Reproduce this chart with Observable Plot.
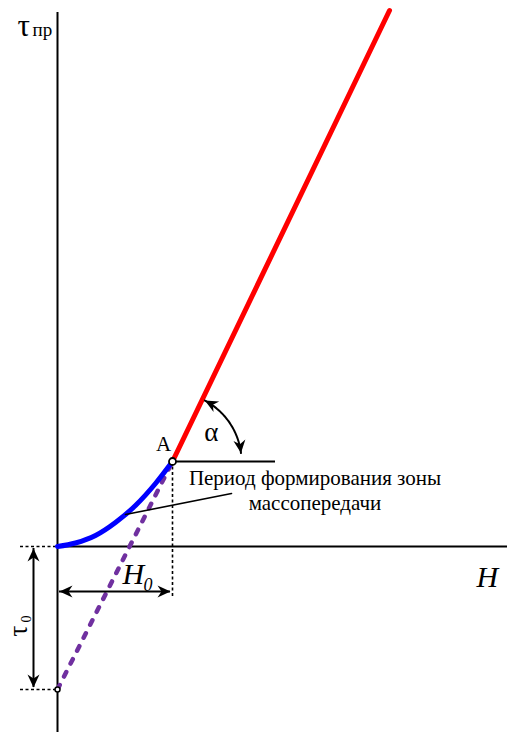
<!DOCTYPE html>
<html><head><meta charset="utf-8">
<script src="https://cdn.jsdelivr.net/npm/d3@7"></script>
<script src="https://cdn.jsdelivr.net/npm/@observablehq/plot@0.6"></script>
<style>body{margin:0;background:#fff}svg{display:block}svg text{font-family:'Liberation Serif','Times New Roman',serif}</style>
</head><body><div id="chart"></div>
<script>
// ---- data (H horizontally, τпр vertically; origin where the axes cross) ----
const curveH   = [0, 18, 38, 58, 78, 98, 115];
const curveTau = [0, 3.5, 11, 24, 41, 63, 85];
const pointA   = [115, 85];            // end of the transitional period
const lineH    = [115, 332];           // steady linear part
const lineTau  = [85, 536];
const extrapH  = [0, 115];             // extrapolation of the linear part
const extrapTau = [-143, 85];
const H0 = 115;
const tau0 = -143;
const leaderH = [68, 174];
const leaderTau = [32, 53];
const noteLines = ["Период формирования зоны", "массопередачи"];

const font = "'Liberation Serif', 'Times New Roman', serif";
const pairs = (a, b) => a.map((v, i) => [v, b[i]]);

// filled notched arrowhead pointing up (tip at origin)
const arrowSym = {draw(ctx) { ctx.moveTo(0, 0); ctx.lineTo(-6, 13); ctx.lineTo(0, 9); ctx.lineTo(6, 13); ctx.closePath(); }};

// angle arc around A
const arcR = 69, arcFrom = 7, arcTo = 62;
const rad = a => a * Math.PI / 180;
const arcPts = d3.range(arcFrom, arcTo + 0.01, 1).map(a => [pointA[0] + arcR * Math.cos(rad(a)), pointA[1] + arcR * Math.sin(rad(a))]);

const heads = [
  {x: 2, y: -45, r: 270}, {x: H0 - 2, y: -45, r: 90},
  {x: -24, y: -2, r: 0}, {x: -24, y: tau0 + 2, r: 180},
  {x: pointA[0] + arcR * Math.cos(rad(arcFrom)), y: pointA[1] + arcR * Math.sin(rad(arcFrom)), r: 180 - arcFrom},
  {x: pointA[0] + arcR * Math.cos(rad(arcTo)), y: pointA[1] + arcR * Math.sin(rad(arcTo)), r: -arcTo}
];

const T = (s, o) => Plot.text([s], {text: d => d, fontFamily: font, fill: "black", textAnchor: "start", lineAnchor: "bottom", ...o});

const chart = Plot.plot({
  width: 507, height: 732, margin: 0,
  style: {fontFamily: font},
  x: {domain: [-57, 450], axis: null},
  y: {domain: [-186, 546], axis: null},
  marks: [
    // axes
    Plot.ruleX([0], {y1: -186, y2: 534, stroke: "black", strokeWidth: 2}),
    Plot.ruleY([0], {x1: 0, x2: 450, stroke: "black", strokeWidth: 2}),
    // dotted guides
    Plot.ruleY([0, tau0], {x1: -37, x2: 0, stroke: "black", strokeWidth: 1.6, strokeDasharray: "3,2.5"}),
    Plot.ruleX([H0], {y1: pointA[1], y2: -52, stroke: "black", strokeWidth: 1.6, strokeDasharray: "3,2.5"}),
    // extrapolation (dashed purple)
    Plot.line(pairs(extrapH, extrapTau), {stroke: "#7030A0", strokeWidth: 4.5, strokeDasharray: "5,9.5", strokeLinecap: "round"}),
    // transitional curve
    Plot.line(pairs(curveH, curveTau), {curve: "monotone-x", stroke: "#0000FF", strokeWidth: 5}),
    // linear part
    Plot.line(pairs(lineH, lineTau), {stroke: "#FF0000", strokeWidth: 5}),
    // horizontal reference at A and angle arc
    Plot.ruleY([pointA[1]], {x1: pointA[0], x2: 218, stroke: "black", strokeWidth: 2}),
    Plot.line(arcPts, {stroke: "black", strokeWidth: 2}),
    // leader line
    Plot.line(pairs(leaderH, leaderTau), {stroke: "black", strokeWidth: 1.6}),
    // dimension arrows
    Plot.ruleY([-45], {x1: 2, x2: H0 - 2, stroke: "black", strokeWidth: 2}),
    Plot.ruleX([-24], {y1: -2, y2: tau0 + 2, stroke: "black", strokeWidth: 2}),
    Plot.dot(heads, {x: "x", y: "y", rotate: "r", symbol: arrowSym, fill: "black", stroke: "none"}),
    // points
    Plot.dot([pointA], {r: 3.5, fill: "white", stroke: "black", strokeWidth: 1.8}),
    Plot.dot([[0, tau0]], {r: 2.5, fill: "white", stroke: "black", strokeWidth: 1.5}),
    // labels
    T("τ", {x: -40, y: 511, fontSize: 31}),
    T("пр", {x: -25, y: 511, fontSize: 19}),
    T("A", {x: pointA[0], y: pointA[1], dx: -9, dy: -11, fontSize: 21, textAnchor: "middle"}),
    T("α", {x: pointA[0] + 45 * Math.cos(rad(35)), y: pointA[1] + 45 * Math.sin(rad(35)), dx: 2, dy: -3, fontSize: 27, textAnchor: "middle", lineAnchor: "middle"}),
    Plot.text(noteLines, {x: 257.5, y: (d, i) => 62 - 25 * i, text: d => d, fontFamily: font, fontSize: 21, textAnchor: "middle", lineAnchor: "bottom", fill: "black"}),
    T("H", {x: 65, y: -37, fontSize: 30, fontStyle: "italic"}),
    T("0", {x: 86, y: -44, fontSize: 18, fontStyle: "italic"}),
    T("H", {x: 419, y: -40, fontSize: 30, fontStyle: "italic"}),
    T("τ", {x: -31, y: -90, rotate: -90, fontSize: 27}),
    T("0", {x: -27, y: -76, rotate: -90, fontSize: 14})
  ]
});
document.getElementById("chart").append(chart);
</script></body></html>
